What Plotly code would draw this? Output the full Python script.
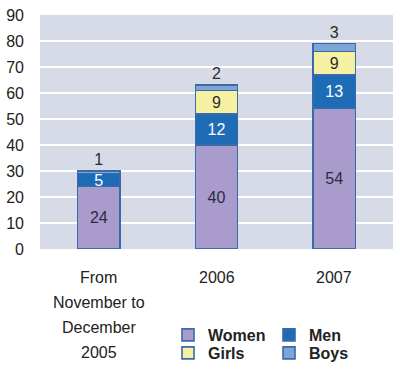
import plotly.graph_objects as go

categories = ["From\nNovember to\nDecember\n2005", "2006", "2007"]
women = [24, 40, 54]
men = [5, 12, 13]
girls = [0, 9, 9]
boys = [1, 2, 3]
y_ticks = [0, 10, 20, 30, 40, 50, 60, 70, 80, 90]

FONT = "Arial, Liberation Sans, sans-serif"
cat_keys = ["c0", "c1", "c2"]

series = [
    ("Women", women, "#a99bcb", "#2b2b3f", "inside", "legend"),
    ("Men", men, "#1f6cb6", "#ffffff", "inside", "legend"),
    ("Girls", girls, "#f6f0a2", "#2b2b2b", "inside", "legend2"),
    ("Boys", boys, "#7fa5d6", "#2b2b2b", "outside", "legend2"),
]

fig = go.Figure()
for name, vals, color, tcolor, tpos, lg in series:
    fig.add_trace(go.Bar(
        name=name, x=cat_keys, y=vals, legend=lg,
        marker=dict(color=color, line=dict(color="#3a6aa8", width=1.6)),
        text=[str(v) if v > 0 else "" for v in vals],
        textposition=tpos, insidetextanchor="middle", textangle=0,
        textfont=dict(family=FONT, size=16, color=tcolor),
        outsidetextfont=dict(family=FONT, size=16, color="#2b2b2b"),
        constraintext="none", cliponaxis=False,
    ))

# category labels (multi-line with wide line spacing)
for key, label in zip(cat_keys, categories):
    for i, line in enumerate(label.split("\n")):
        fig.add_annotation(x=key, xref="x", y=0, yref="paper", text=line,
                           showarrow=False, yanchor="middle", xanchor="center",
                           yshift=-28 - 25 * i,
                           font=dict(family=FONT, size=16, color="#222222"))

leg_common = dict(orientation="h", xref="container", yref="container",
                  xanchor="left", yanchor="middle",
                  font=dict(family=FONT, size=16, color="#222222", weight="bold"),
                  entrywidth=56, entrywidthmode="pixels", traceorder="normal",
                  itemwidth=30, bgcolor="rgba(0,0,0,0)", borderwidth=0)

fig.update_layout(
    width=400, height=369,
    margin=dict(l=40, r=7, t=15, b=120, autoexpand=False),
    barmode="stack", bargap=0.64,
    plot_bgcolor="#d6dbe7", paper_bgcolor="#ffffff",
    font=dict(family=FONT, size=16, color="#222222"),
    showlegend=True,
    legend=dict(x=168 / 400, y=1 - 335 / 369, **leg_common),
    legend2=dict(x=168 / 400, y=1 - 353 / 369, **leg_common),
)
fig.update_xaxes(showticklabels=False, showgrid=False, zeroline=False, showline=False,
                 categoryorder="array", categoryarray=cat_keys)
fig.update_yaxes(range=[0, 90], tickvals=y_ticks, showgrid=True, gridcolor="#ffffff",
                 gridwidth=1.5, zeroline=False, showline=False, ticks="",
                 ticklabelstandoff=15,
                 tickfont=dict(family=FONT, size=16, color="#222222"))

fig.write_html("out.html", config={"displayModeBar": False},
               post_script="document.body.style.margin='0';")
